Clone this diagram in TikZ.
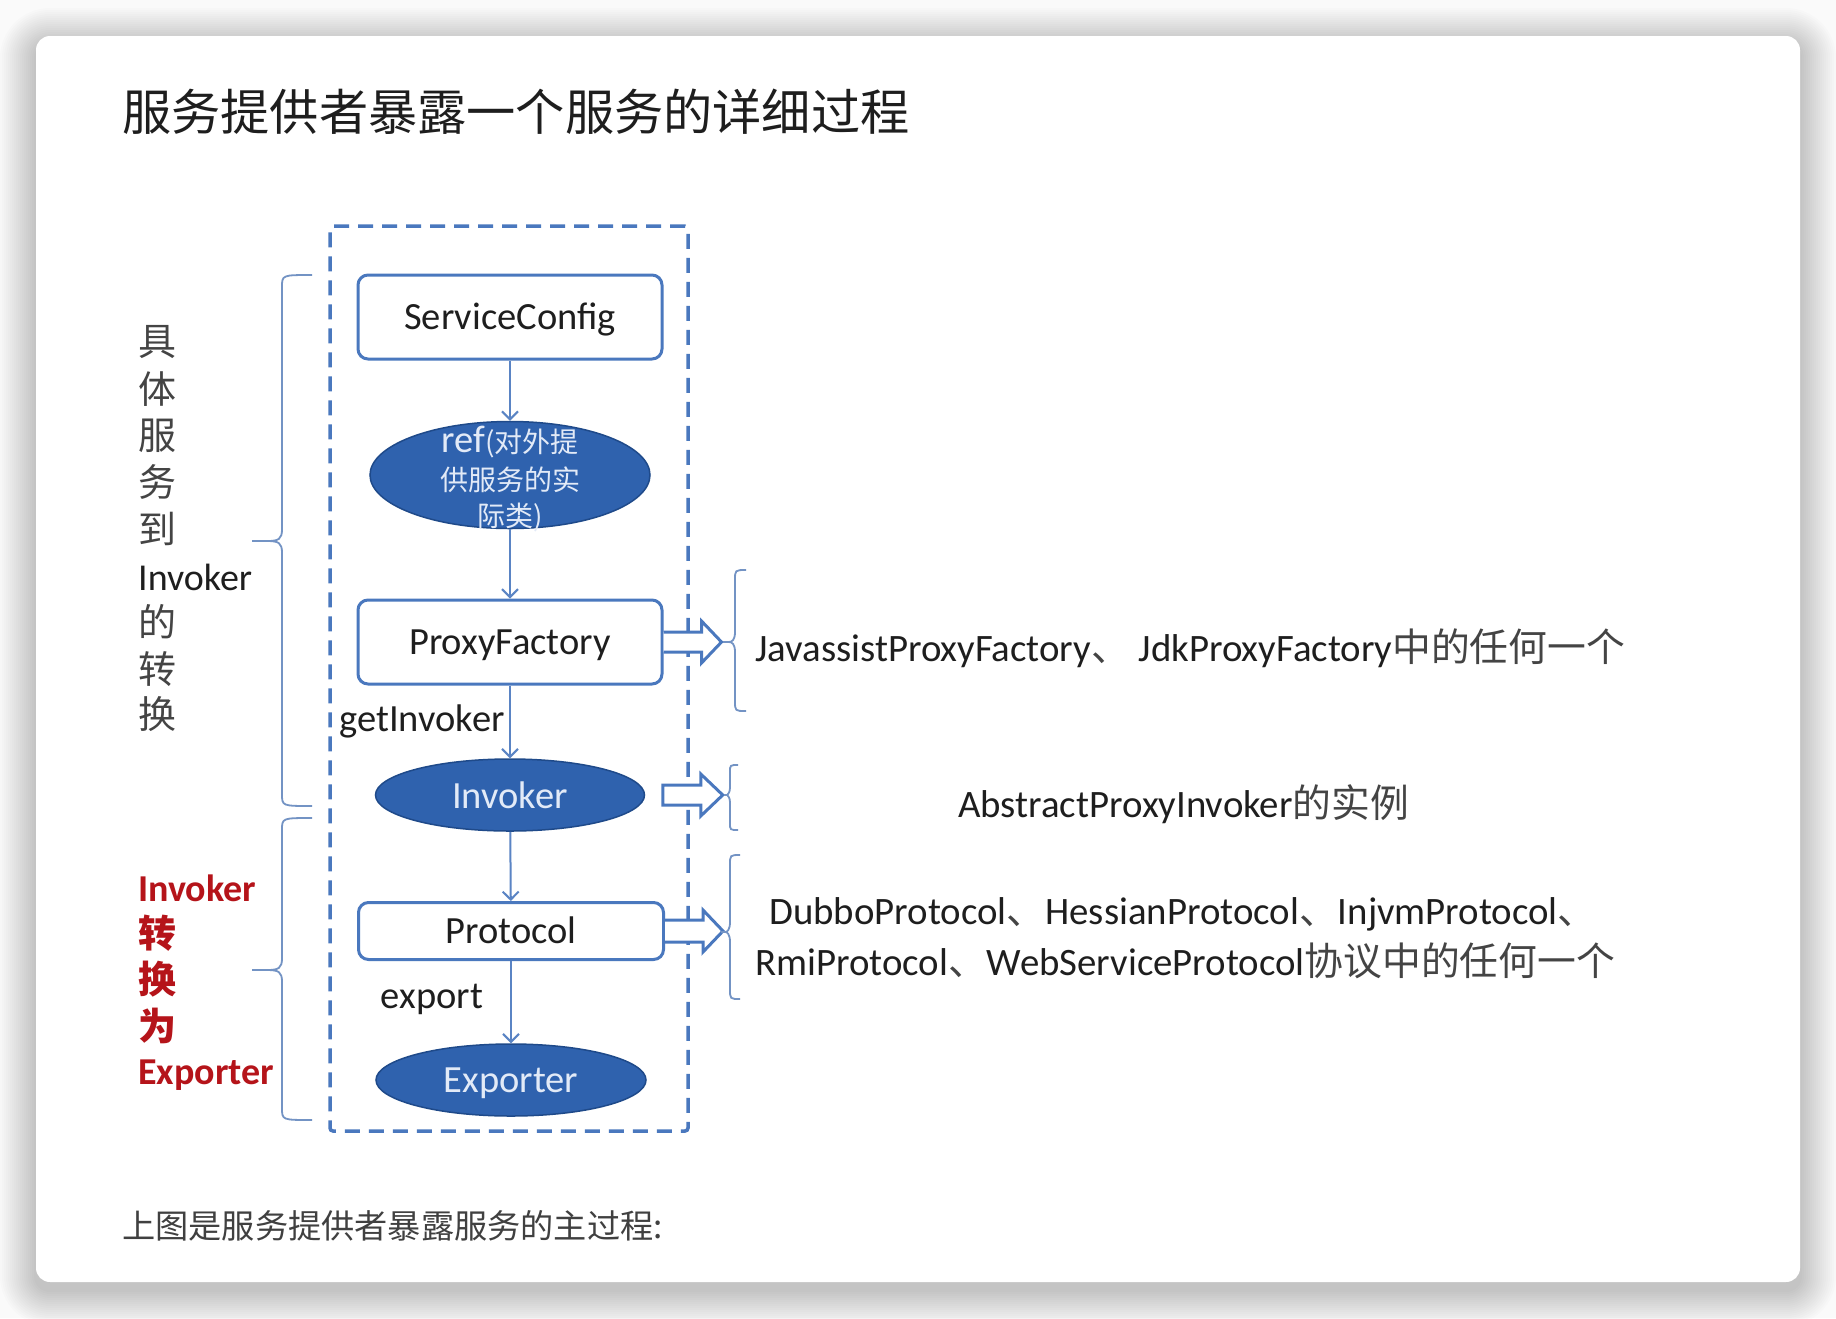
\documentclass[tikz,border=0pt]{standalone}
\usepackage{fontspec}
\setmainfont{Carlito}
\newfontfamily\cjk{Noto Sans CJK SC}
\usetikzlibrary{arrows.meta,calc,shapes.geometric}
\definecolor{bgc}{HTML}{FAFAFA}
\definecolor{bline}{HTML}{4A78BE}
\definecolor{cline}{HTML}{5A84C4}
\definecolor{efill}{HTML}{2F62AE}
\definecolor{eedge}{HTML}{1F4A8A}
\definecolor{etext}{HTML}{E2EAF7}
\definecolor{brc}{HTML}{7393C4}
\definecolor{redlab}{HTML}{B5141A}
\definecolor{txt}{HTML}{1E1E1E}
\definecolor{cjktxt}{HTML}{444444}
\newcommand\mybrace[7]{% ends, spine, tip, ytop, ymid, ybot, r
  \draw[bracestyle] (#1,#4) .. controls ({#2},#4) .. ({#2},{#4+#7})
    -- ({#2},{#5-#7}) .. controls ({#2},{#5-2}) and ({#2-3},#5) .. ({(#2+#3)/2},#5) -- (#3,#5)
    (#3,#5) -- ({(#2+#3)/2},#5) .. controls ({#2-3},#5) and ({#2},{#5+2}) .. ({#2},{#5+#7})
    -- ({#2},{#6-#7}) .. controls ({#2},#6) .. (#1,#6);}
\begin{document}
\begin{tikzpicture}[x=1pt,y=-1pt,
  bracestyle/.style={draw=brc,line width=1.8pt},
  rbox/.style={draw=bline,line width=3pt,rounded corners=10pt,fill=white,inner sep=0pt,
    text=txt,font=\fontsize{38.5}{44}\selectfont,text height=30pt,text depth=6pt},
  ell/.style={ellipse,fill=efill,draw=eedge,line width=1.5pt,inner sep=0pt},
  elltext/.style={text=etext,font=\fontsize{38.5}{44}\selectfont},
  conn/.style={draw=cline,line width=2pt,-{Straight Barb[length=8pt,width=16pt]}},
  blk/.style={draw=bline,line width=3pt,fill=white,line join=miter},
  lab/.style={text=txt,font=\fontsize{38.5}{44}\selectfont,inner sep=0pt},
  rtext/.style={text=txt,font=\fontsize{38.8}{44}\selectfont,inner sep=0pt,anchor=west},
  ltext/.style={text=txt,font=\fontsize{38}{44}\selectfont,inner sep=0pt,anchor=west},
  redtext/.style={text=redlab,font=\bfseries\fontsize{38}{44}\selectfont,inner sep=0pt,anchor=west},
  frame/.style={draw=bline,line width=3.5pt,dash pattern=on 15pt off 9pt,rounded corners=3pt}
]
\useasboundingbox (0,0) rectangle (1836,1318);
\fill[bgc] (0,0) rectangle (1836,1318);
% card shadow
\foreach \i in {2,4,...,36}{
  \fill[black,opacity=0.011,rounded corners={14+\i}] ({36-\i},{36-\i+8}) rectangle ({1800+\i},{1282+\i+8});
}
\fill[white,rounded corners=14pt] (36,36) rectangle (1800,1282);

% title and footer
\node[anchor=west,inner sep=0pt,text=txt] (title) at (122,112) {\cjk\fontsize{49.2}{60}\selectfont 服务提供者暴露一个服务的详细过程};
\node[anchor=west,inner sep=0pt,text=txt!85!white] (footer) at (122,1226) {\cjk\fontsize{33.2}{40}\selectfont 上图是服务提供者暴露服务的主过程:};

% dashed frame
\node[frame,minimum width=358pt,minimum height=905pt,inner sep=0pt] (frm) at (509,678.5) {};

% main nodes
\node[rbox,minimum width=304pt,minimum height=84pt] (sc) at (510,317) {ServiceConfig};
\node[ell,minimum width=280pt,minimum height=107pt] (ref) at (510,475) {};
\node[elltext,align=center,inner sep=0pt] (reftxt) at (510,479)
  {ref{\cjk\fontsize{28}{30}\selectfont (对外提}\\[-6pt]
   {\cjk\fontsize{28}{36}\selectfont 供服务的实}\\[-8pt]
   {\cjk\fontsize{28}{30}\selectfont 际类)}};
\node[rbox,minimum width=304pt,minimum height=84pt] (pf) at (510,642) {ProxyFactory};
\node[ell,minimum width=269pt,minimum height=72pt,elltext] (inv) at (510,795) {Invoker};
\node[rbox,minimum width=305pt,minimum height=57pt] (prot) at (511,931) {Protocol};
\node[ell,minimum width=270pt,minimum height=72pt,elltext,text height=30pt,text depth=6pt] (exp) at (511,1080) {Exporter};

% connectors
\draw[conn] (sc) -- (ref);
\draw[conn] (ref) -- (pf);
\draw[conn] (pf) -- (inv);
\draw[conn] (inv) -- (prot);
\draw[conn] (prot) -- (exp);

% connector labels
\node[lab] (gi) at (422,721) {getInvoker};
\node[lab] (ex) at (432,999) {export};

% hollow block arrows
\coordinate (a1) at (pf.east);
\coordinate (a2) at ($(inv.east)+(17.5,0)$);
\coordinate (a3) at (prot.east);
\draw[blk] ($(a1)+(0,-10)$) -- ++(38,0) -- ++(0,-11) -- ++(20,21) -- ++(-20,21) -- ++(0,-11) -- ++(-38,0);
\draw[blk] ($(a2)+(0,-10)$) -- ++(38,0) -- ++(0,-11) -- ++(22,21) -- ++(-22,21) -- ++(0,-11) -- ++(-38,0) -- cycle;
\draw[blk] ($(a3)+(0,-11)$) -- ++(38,0) -- ++(0,-10) -- ++(20,21) -- ++(-20,21) -- ++(0,-10) -- ++(-38,0);

% right braces
\mybrace{746}{735}{723}{570}{642}{711}{10}
\mybrace{738}{730}{724}{765}{795}{830}{7}
\mybrace{740}{730}{721}{855}{932}{999}{10}

% right texts
\node[rtext] (r1) at (755,648) {JavassistProxyFactory{\cjk\color{cjktxt}、} JdkProxyFactory{\cjk\color{cjktxt}中的任何一个}};
\node[rtext] (r2) at (958,804) {AbstractProxyInvoker{\cjk\color{cjktxt}的实例}};
\node[rtext] (r3) at (769,914) {DubboProtocol{\cjk\color{cjktxt}、}HessianProtocol{\cjk\color{cjktxt}、}InjvmProtocol{\cjk\color{cjktxt}、}};
\node[rtext] (r4) at (755,961) {RmiProtocol{\cjk\color{cjktxt}、}WebServiceProtocol{\cjk\color{cjktxt}协议中的任何一个}};

% left braces
\mybrace{312}{282}{252}{275}{541}{806}{12}
\mybrace{312}{282}{252}{818}{970}{1120}{12}

% left labels
\node[ltext,text=cjktxt] (l1) at (138,342) {\cjk 具};
\node[ltext,text=cjktxt] (l2) at (138,389) {\cjk 体};
\node[ltext,text=cjktxt] (l3) at (138,436) {\cjk 服};
\node[ltext,text=cjktxt] (l4) at (138,482) {\cjk 务};
\node[ltext,text=cjktxt] (l5) at (138,529) {\cjk 到};
\node[ltext] (l6) at (138,577) {Invoker};
\node[ltext,text=cjktxt] (l7) at (138,622) {\cjk 的};
\node[ltext,text=cjktxt] (l8) at (138,669) {\cjk 转};
\node[ltext,text=cjktxt] (l9) at (138,714) {\cjk 换};

\node[redtext] (m1) at (138,888) {Invoker};
\node[redtext] (m2) at (138,933) {\cjk 转};
\node[redtext] (m3) at (138,979) {\cjk 换};
\node[redtext] (m4) at (138,1026) {\cjk 为};
\node[redtext] (m5) at (138,1075) {Exporter};
\end{tikzpicture}
\end{document}
